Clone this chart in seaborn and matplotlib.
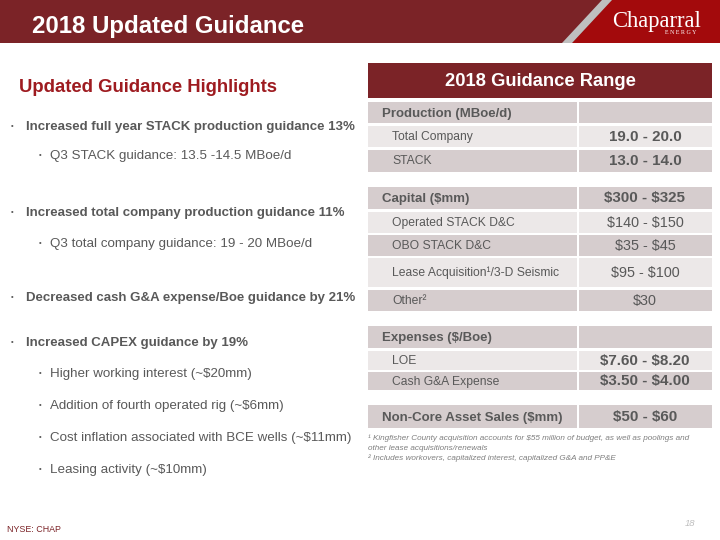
import matplotlib
matplotlib.use("Agg")
import matplotlib.pyplot as plt
import seaborn as sns
from matplotlib.patches import Rectangle, Polygon

# ---------------- data ----------------
slide_title = "2018 Updated Guidance"
highlights_title = "Updated Guidance Highlights"
bullet_texts = [
    "Increased full year STACK production guidance 13%",
    "Q3 STACK guidance: 13.5 -14.5 MBoe/d",
    "Increased total company production guidance 11%",
    "Q3 total company guidance: 19 - 20 MBoe/d",
    "Decreased cash G&A expense/Boe guidance by 21%",
    "Increased CAPEX guidance by 19%",
    "Higher working interest (~$20mm)",
    "Addition of fourth operated rig (~$6mm)",
    "Cost inflation associated with BCE wells (~$11mm)",
    "Leasing activity (~$10mm)",
]
bullet_levels = [0, 1, 0, 1, 0, 0, 1, 1, 1, 1]

table_title = "2018 Guidance Range"
row_labels = [
    "Production (MBoe/d)", "Total Company", "STACK",
    "Capital ($mm)", "Operated STACK D&C", "OBO STACK D&C",
    "Lease Acquisition\u00b9/3-D Seismic", "Other\u00b2",
    "Expenses ($/Boe)", "LOE", "Cash G&A Expense",
    "Non-Core Asset Sales ($mm)",
]
row_values = [
    "", "19.0 - 20.0", "13.0 - 14.0",
    "$300 - $325", "$140 - $150", "$35 - $45", "$95 - $100", "$30",
    "", "$7.60 - $8.20", "$3.50 - $4.00",
    "$50 - $60",
]
row_kinds = ["section", "light", "dark",
             "section", "light", "dark", "light", "dark",
             "section", "light", "dark",
             "section"]
value_bold = [True, True, True,
              True, False, False, False, False,
              True, True, True,
              True]
footnotes = [
    "\u00b9 Kingfisher County acquisition accounts for $55 million of budget, as well as poolings and",
    "other lease acquisitions/renewals",
    "\u00b2 Includes workovers, capitalized interest, capitalized G&A and PP&E",
]
ticker = "NYSE: CHAP"
page_number = "18"

# ---------------- style / layout ----------------
sns.set_theme(style="white")
plt.rcParams["font.family"] = ["Liberation Sans", "DejaVu Sans"]

DARK_RED = "#7B2327"
BRIGHT_RED = "#A30A0C"
TITLE_RED = "#9E1B20"
GRAY_TXT = "#595959"
ROW_DARK = "#D6CDCE"
ROW_LIGHT = "#ECE8E8"

row_top = [102, 126, 150, 187, 212, 235, 258, 290, 326, 351, 372, 405]
row_bot = [123, 147, 172, 209, 233, 256, 287, 311, 348, 370, 390, 428]
bullet_base = [130, 159.5, 216, 247.5, 301, 346, 377, 409, 441, 473]

fig = plt.figure(figsize=(7.2, 5.4), dpi=100)
ax = fig.add_axes([0, 0, 1, 1])
ax.set_xlim(0, 720)
ax.set_ylim(540, 0)
ax.axis("off")

# header band
ax.add_patch(Rectangle((0, 0), 720, 43, color=DARK_RED, lw=0))
ax.add_patch(Polygon([(612, 0), (720, 0), (720, 43), (572, 43)], closed=True,
                     color=BRIGHT_RED, lw=0))
ax.add_patch(Polygon([(602, 0), (612, 0), (572, 43), (562, 43)], closed=True,
                     color="#BFBFBF", lw=0))
ax.text(32, 33, slide_title, color="white", fontsize=17.3, fontweight="bold",
        va="baseline", ha="left")
ax.text(612, 27, "Chaparral", color="white", fontsize=16.3,
        family=["Liberation Serif", "DejaVu Serif"], va="baseline", ha="left")
ax.text(681, 34.5, "E N E R G Y", color="white", fontsize=4.3,
        family=["Liberation Serif", "DejaVu Serif"], va="baseline", ha="center")

# left column
ax.text(19, 92, highlights_title, color=TITLE_RED, fontsize=13.3,
        fontweight="bold", va="baseline", ha="left")
for txt, lvl, yb in zip(bullet_texts, bullet_levels, bullet_base):
    if lvl == 0:
        ax.text(12, yb - 3.5, "\u2022", color=GRAY_TXT, fontsize=5.5,
                va="center", ha="center")
        ax.text(26, yb, txt, color=GRAY_TXT, fontsize=9.5, fontweight="bold",
                va="baseline", ha="left", parse_math=False)
    else:
        ax.text(40, yb - 3.5, "\u2022", color=GRAY_TXT, fontsize=5.5,
                va="center", ha="center")
        ax.text(50, yb, txt, color=GRAY_TXT, fontsize=9.6,
                va="baseline", ha="left", parse_math=False)

# table title
ax.add_patch(Rectangle((368, 63), 344, 35, color=DARK_RED, lw=0))
ax.text(540, 86, table_title, color="white", fontsize=13.2, fontweight="bold",
        va="baseline", ha="center")

# table rows
for lab, val, kind, vb, t, b in zip(row_labels, row_values, row_kinds,
                                    value_bold, row_top, row_bot):
    col = ROW_LIGHT if kind == "light" else ROW_DARK
    ax.add_patch(Rectangle((368, t), 209, b - t, color=col, lw=0))
    ax.add_patch(Rectangle((579, t), 133, b - t, color=col, lw=0))
    yc = (t + b) / 2
    if kind == "section":
        ax.text(382, yc + 4, lab, color=GRAY_TXT, fontsize=9.5,
                fontweight="bold", va="baseline", ha="left", parse_math=False)
    else:
        ax.text(392, yc + 3.5, lab, color=GRAY_TXT, fontsize=8.7,
                va="baseline", ha="left", parse_math=False)
    if val:
        ax.text(645, yc + 4.2, val, color=GRAY_TXT,
                fontsize=10.9 if vb else 10.4,
                fontweight="bold" if vb else "normal",
                va="baseline", ha="center", parse_math=False)

# footnotes
for i, fn in enumerate(footnotes):
    ax.text(368, 439.5 + i * 10, fn, color="#7F7F7F", fontsize=5.9,
            style="italic", va="baseline", ha="left", parse_math=False)

# footer
ax.text(7, 532, ticker, color=DARK_RED, fontsize=6.4, va="baseline", ha="left")
ax.text(695, 526, page_number, color="#BFBFBF", fontsize=6.8, style="italic",
        va="baseline", ha="right")

fig.savefig("out.png", dpi=100)
